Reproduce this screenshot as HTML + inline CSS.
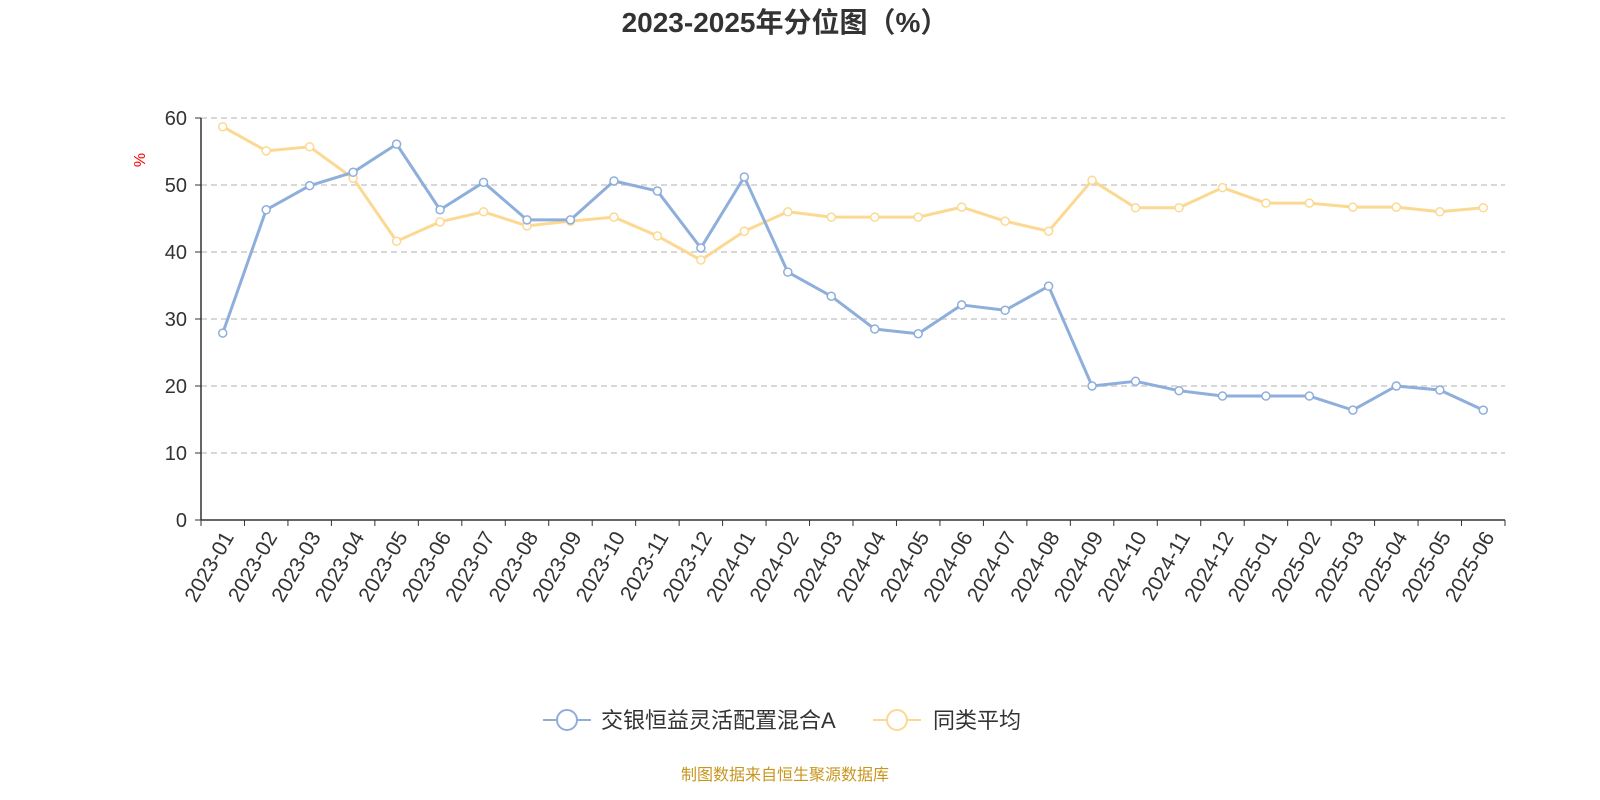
<!DOCTYPE html>
<html><head><meta charset="utf-8"><style>
body{margin:0;background:#fff;font-family:"Liberation Sans","Noto Sans CJK SC",sans-serif;overflow:hidden;}
</style></head><body>
<svg id="chart" width="1600" height="800" xmlns="http://www.w3.org/2000/svg" style="display:block">
<text x="785" y="32" text-anchor="middle" font-size="28" font-weight="bold" fill="#333">2023-2025年分位图（%）</text>
<text x="145" y="160" font-size="16" fill="#f00" transform="rotate(-90 145 160)" text-anchor="middle">%</text>
<g id="grid"></g><g id="axes"></g><g id="series"></g>
<g>
<g><line x1="543" y1="720" x2="591" y2="720" stroke="#8eaedb" stroke-width="2"/><circle cx="567" cy="720" r="10" fill="#fff" stroke="#8eaedb" stroke-width="2"/><text x="601" y="728" font-size="22" fill="#333">交银恒益灵活配置混合A</text></g>
<g><line x1="873" y1="720" x2="921" y2="720" stroke="#fcd993" stroke-width="2"/><circle cx="897" cy="720" r="10" fill="#fff" stroke="#fcd993" stroke-width="2"/><text x="933" y="728" font-size="22" fill="#333">同类平均</text></g>
</g>
<text x="785" y="780" text-anchor="middle" font-size="16" fill="#c8961e">制图数据来自恒生聚源数据库</text>
</svg>
<script>
const categories=["2023-01","2023-02","2023-03","2023-04","2023-05","2023-06","2023-07","2023-08","2023-09","2023-10","2023-11","2023-12","2024-01","2024-02","2024-03","2024-04","2024-05","2024-06","2024-07","2024-08","2024-09","2024-10","2024-11","2024-12","2025-01","2025-02","2025-03","2025-04","2025-05","2025-06"];
const fundValues=[27.9,46.3,49.9,51.9,56.1,46.3,50.4,44.8,44.8,50.6,49.1,40.6,51.2,37.0,33.4,28.5,27.8,32.1,31.3,34.9,20.0,20.7,19.3,18.5,18.5,18.5,16.4,20.0,19.4,16.4];
const avgValues=[58.7,55.1,55.7,51.0,41.6,44.5,46.0,43.9,44.6,45.2,42.4,38.8,43.1,46.0,45.2,45.2,45.2,46.7,44.6,43.1,50.7,46.6,46.6,49.6,47.3,47.3,46.7,46.7,46.0,46.6];
const yTicks=[0,10,20,30,40,50,60];
const NS="http://www.w3.org/2000/svg";
const L=201,R=1505,T=118,B=520;
const bw=(R-L)/categories.length;
const xs=i=>L+bw*(i+0.5);
const ys=v=>B-(v/60)*(B-T);
function mk(tag,attrs,parent){const e=document.createElementNS(NS,tag);for(const k in attrs)e.setAttribute(k,attrs[k]);parent.appendChild(e);return e;}
const grid=document.getElementById('grid'),axes=document.getElementById('axes'),ser=document.getElementById('series');
yTicks.forEach(v=>{
  if(v>0){const g=mk('line',{x1:L,x2:R,y1:ys(v),y2:ys(v),stroke:'#ccc','stroke-dasharray':'6,4','stroke-width':1.5},grid);
  
  }
  const t=mk('text',{x:L-14,y:ys(v)+7,'text-anchor':'end','font-size':20,fill:'#333'},axes);t.textContent=v;
  
  
  mk('line',{x1:L-6,x2:L,y1:ys(v),y2:ys(v),stroke:'#333'},axes);
});
const ya=mk('line',{x1:L,x2:L,y1:T,y2:B,stroke:'#333','stroke-width':1.5},axes);


const xa=mk('line',{x1:L,x2:R,y1:B,y2:B,stroke:'#333','stroke-width':1.5},axes);


for(let i=0;i<=categories.length;i++)mk('line',{x1:L+bw*i,x2:L+bw*i,y1:B,y2:B+6,stroke:'#333'},axes);
categories.forEach((c,i)=>{
  const x=xs(i)+7,y=B+14;
  const t=mk('text',{x:x,y:y,'text-anchor':'end','font-size':21,fill:'#333',transform:`rotate(-60 ${x} ${y})`,'dominant-baseline':'middle'},axes);
  t.textContent=c;
  
  
});
function drawSeries(vals,color,name){
  const p=mk('polyline',{points:vals.map((v,i)=>xs(i)+','+ys(v)).join(' '),fill:'none',stroke:color,'stroke-width':3,'stroke-linejoin':'round'},ser);
  
  
  vals.forEach((v,i)=>{const c=mk('circle',{cx:xs(i),cy:ys(v),r:4,fill:'#fff',stroke:color,'stroke-width':1.5},ser);
    
    });
}
drawSeries(avgValues,'#fcd993','average');
drawSeries(fundValues,'#8eaedb','fund');
</script>
</body></html>
